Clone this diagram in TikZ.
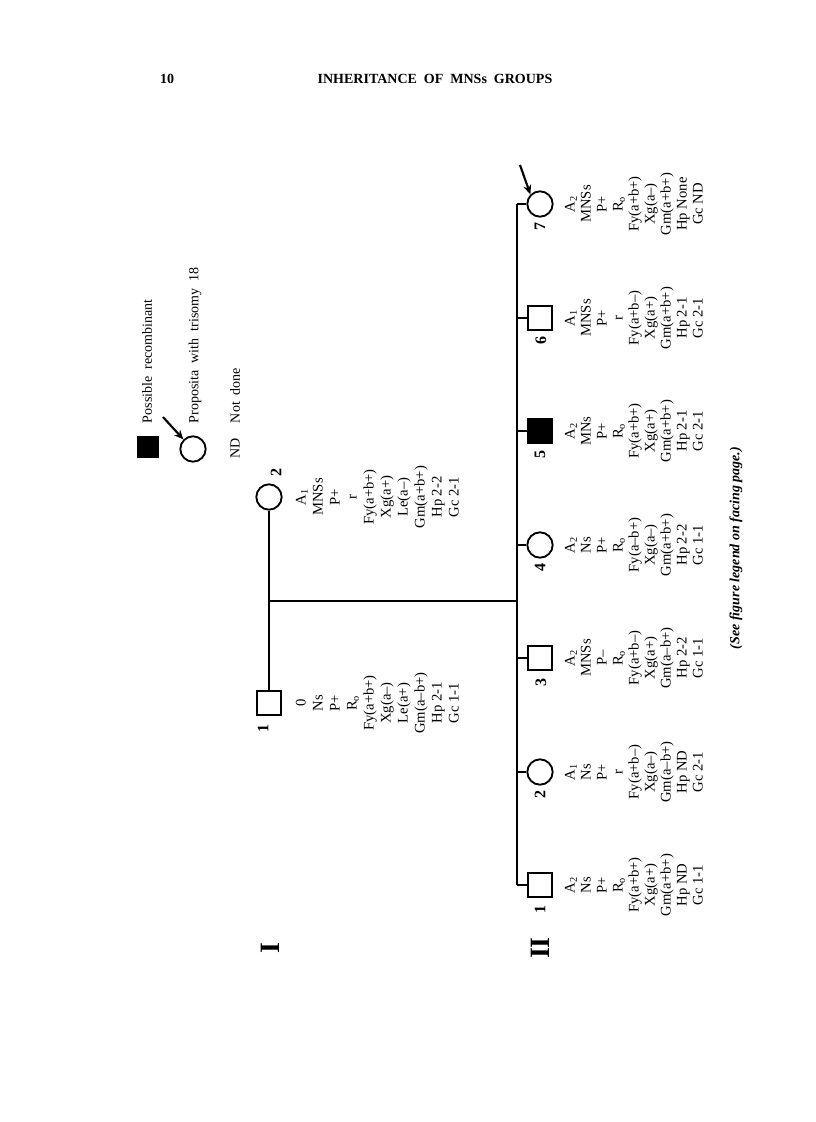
\documentclass[tikz,border=0pt]{standalone}
\usepackage{fontspec}
\setmainfont{Liberation Serif}
\usetikzlibrary{arrows.meta}
\begin{document}
\begin{tikzpicture}[x=0.75pt,y=-0.75pt,
  line width=1.4pt,
  sq/.style={draw, rectangle, minimum size=18pt, inner sep=0pt, line width=1.4pt},
  ci/.style={draw, circle, minimum size=19pt, inner sep=0pt, line width=1.4pt},
  blk/.style={sq, fill=black},
  num/.style={rotate=90, inner sep=0pt, font=\bfseries\fontsize{12}{12}\selectfont},
  gen/.style={rotate=90, inner sep=0pt, font=\bfseries\fontsize{21}{21}\selectfont},
  dataII/.style={rotate=90, anchor=north, align=center, inner sep=0pt, font=\fontsize{11}{12}\selectfont},
  dataI/.style={rotate=90, anchor=north, align=center, inner sep=0pt, font=\fontsize{11}{12.75}\selectfont},
  leg/.style={rotate=90, anchor=west, inner sep=0pt, font=\fontsize{10.5}{12}\selectfont},
  conn/.style={line width=1.4pt},
  arr/.style={line width=1.6pt, -{Stealth[length=7pt,width=6pt]}}
]
\useasboundingbox (0,0) rectangle (816,1122);

% header
\node[font=\bfseries\fontsize{10.5}{12}\selectfont, anchor=base] (pg) at (167,83) {10};
\node[font=\bfseries\fontsize{10.5}{12}\selectfont, anchor=base] (ttl) at (435,83) {INHERITANCE\ \ OF\ \ MNSs\ \ GROUPS};

% legend
\node[blk, minimum size=15pt] (lgsq) at (148,447) {};
\node[leg] (lgt1) at (147,424) {Possible\ \ recombinant};
\node[ci] (lgci) at (193,449) {};
\coordinate (lgarr) at (163,417);
\draw[arr] (lgarr) -- (lgci.north west);
\node[leg] (lgt2) at (195,424) {Proposita\ \ with\ \ trisomy\ \ 18};
\node[rotate=90, inner sep=0pt, font=\fontsize{10.5}{12}\selectfont] (lgnd) at (235,448) {ND};
\node[leg] (lgt3) at (235,424) {Not\ \ done};

% generation labels
\node[gen] (gI) at (270,948) {I};
\node[gen] (gII) at (540,948) {II};

% generation I
\node[ci] (Ia) at (269,497) {};
\node[sq] (Ib) at (269,703) {};
\node[num] at (276,472) {2};
\node[num] at (263,728) {1};
\draw[conn] (Ia) -- (Ib);
\coordinate (mid) at (269,601);
\coordinate (sib) at (517,601);
\draw[conn] (mid) -- (sib);

\node[dataI] (tIa) at (295,497) {A\textsubscript{1}\\MNSs\\P+\\r\\Fy(a+b+)\\Xg(a+)\\Le(a--)\\Gm(a+b+)\\Hp 2-2\\Gc 2-1};
\node[dataI] (tIb) at (295,703) {0\\Ns\\P+\\R\textsubscript{o}\\Fy(a+b+)\\Xg(a--)\\Le(a+)\\Gm(a--b+)\\Hp 2-1\\Gc 1-1};

% generation II
\node[ci] (c7) at (540,204) {};
\node[sq] (c6) at (540,318) {};
\node[blk] (c5) at (540,431) {};
\node[ci] (c4) at (540,545) {};
\node[sq] (c3) at (540,658) {};
\node[ci] (c2) at (540,772) {};
\node[sq] (c1) at (540,885) {};

\node[num] at (540,226) {7};
\node[num] at (541,340) {6};
\node[num] at (540,454) {5};
\node[num] at (540,567) {4};
\node[num] at (541,682) {3};
\node[num] at (540,794) {2};
\node[num] at (540,909) {1};

\draw[conn] (c7.west -| sib) -- (c1.west -| sib);
\foreach \c in {c1,c2,c3,c4,c5,c6,c7} {
  \draw[conn] (\c.west) -- (\c.west -| sib);
}
\coordinate (a7) at (520,165);
\draw[arr] (a7) -- (c7.north west);

\node[dataII] (t1) at (564,885) {A\textsubscript{2}\\Ns\\P+\\R\textsubscript{o}\\Fy(a+b+)\\Xg(a+)\\Gm(a+b+)\\Hp ND\\Gc 1-1};
\node[dataII] (t2) at (564,772) {A\textsubscript{1}\\Ns\\P+\\r\\Fy(a+b--)\\Xg(a--)\\Gm(a--b+)\\Hp ND\\Gc 2-1};
\node[dataII] (t3) at (564,658) {A\textsubscript{2}\\MNSs\\P--\\R\textsubscript{o}\\Fy(a+b--)\\Xg(a+)\\Gm(a--b+)\\Hp 2-2\\Gc 1-1};
\node[dataII] (t4) at (564,545) {A\textsubscript{2}\\Ns\\P+\\R\textsubscript{o}\\Fy(a--b+)\\Xg(a--)\\Gm(a+b+)\\Hp 2-2\\Gc 1-1};
\node[dataII] (t5) at (564,431) {A\textsubscript{2}\\MNs\\P+\\R\textsubscript{o}\\Fy(a+b+)\\Xg(a+)\\Gm(a+b+)\\Hp 2-1\\Gc 2-1};
\node[dataII] (t6) at (564,318) {A\textsubscript{1}\\MNSs\\P+\\r\\Fy(a+b--)\\Xg(a+)\\Gm(a+b+)\\Hp 2-1\\Gc 2-1};
\node[dataII] (t7) at (564,204) {A\textsubscript{2}\\MNSs\\P+\\R\textsubscript{o}\\Fy(a+b+)\\Xg(a--)\\Gm(a+b+)\\Hp None\\Gc ND};

\node[rotate=90, inner sep=0pt, font=\bfseries\itshape\fontsize{10.5}{12}\selectfont] (note) at (736,548) {(See figure legend on facing page.)};
\end{tikzpicture}
\end{document}
